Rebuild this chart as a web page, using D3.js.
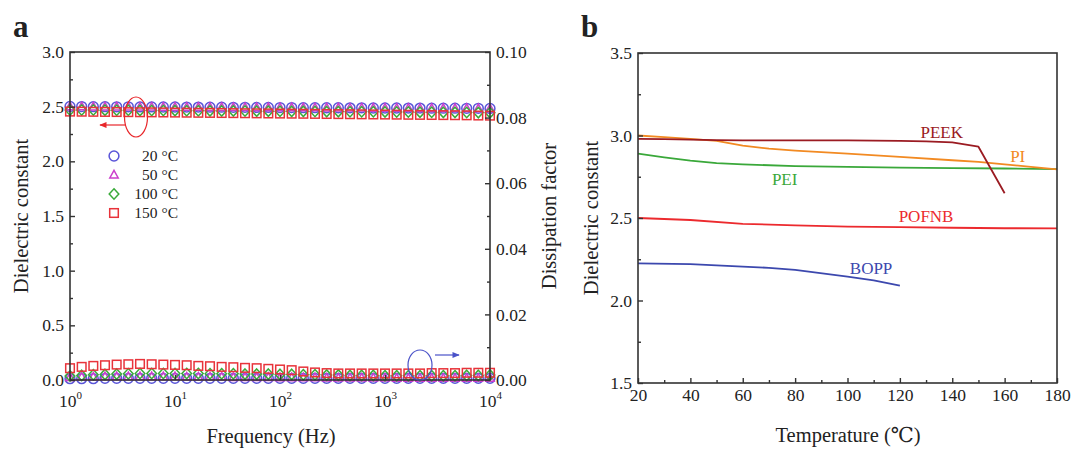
<!DOCTYPE html>
<html><head><meta charset="utf-8">
<script src="https://cdn.jsdelivr.net/npm/d3@7"></script>
<style>body{margin:0;background:#fff}svg{display:block}text{font-family:"Liberation Serif","DejaVu Serif",serif;fill:#222}</style>
</head><body><svg id="c" width="1080" height="456"></svg>
<script>
// ---------- Panel a data ----------
const freqs = [1,1.292,1.668,2.154,2.783,3.594,4.642,5.995,7.743,10,12.92,16.68,21.54,27.83,35.94,46.42,59.95,77.43,100,129.2,166.8,215.4,278.3,359.4,464.2,599.5,774.3,1000,1292,1668,2154,2783,3594,4642,5995,7743,10000];
const tempLabels = ["20 \u00B0C","50 \u00B0C","100 \u00B0C","150 \u00B0C"];
const eps20 = [2.502,2.501,2.500,2.500,2.499,2.499,2.498,2.498,2.497,2.497,2.496,2.496,2.495,2.495,2.494,2.494,2.493,2.493,2.492,2.492,2.491,2.491,2.490,2.490,2.489,2.489,2.488,2.488,2.488,2.487,2.487,2.486,2.486,2.486,2.485,2.485,2.484];
const eps50 = [2.500,2.499,2.498,2.498,2.497,2.497,2.496,2.496,2.495,2.495,2.494,2.494,2.493,2.493,2.492,2.492,2.491,2.491,2.490,2.490,2.489,2.489,2.488,2.488,2.487,2.487,2.486,2.486,2.485,2.485,2.484,2.484,2.483,2.483,2.483,2.482,2.482];
const eps100 = [2.470,2.469,2.469,2.468,2.467,2.467,2.466,2.465,2.465,2.464,2.463,2.463,2.462,2.461,2.461,2.460,2.459,2.459,2.458,2.457,2.457,2.456,2.455,2.455,2.454,2.453,2.453,2.452,2.451,2.451,2.450,2.449,2.448,2.448,2.447,2.446,2.445];
const eps150 = [2.455,2.454,2.453,2.452,2.451,2.450,2.449,2.448,2.447,2.446,2.445,2.444,2.443,2.442,2.441,2.440,2.439,2.438,2.437,2.436,2.435,2.434,2.433,2.432,2.431,2.430,2.429,2.428,2.427,2.426,2.425,2.424,2.423,2.422,2.421,2.419,2.418];
const df20 = [0.0004,0.0004,0.0004,0.0005,0.0005,0.0005,0.0005,0.0005,0.0005,0.0005,0.0005,0.0005,0.0005,0.0005,0.0005,0.0005,0.0005,0.0005,0.0005,0.0005,0.0005,0.0005,0.0005,0.0005,0.0005,0.0005,0.0005,0.0005,0.0005,0.0005,0.0005,0.0005,0.0005,0.0005,0.0005,0.0005,0.0005];
const df50 = [0.0008,0.0009,0.0009,0.0010,0.0010,0.0010,0.0010,0.0010,0.0010,0.0010,0.0009,0.0009,0.0009,0.0009,0.0008,0.0008,0.0008,0.0008,0.0007,0.0007,0.0007,0.0007,0.0006,0.0006,0.0006,0.0006,0.0006,0.0006,0.0005,0.0005,0.0005,0.0005,0.0005,0.0005,0.0005,0.0005,0.0005];
const df100 = [0.0012,0.0014,0.0016,0.0017,0.0018,0.0019,0.0020,0.0020,0.0020,0.0020,0.0020,0.0020,0.0019,0.0019,0.0019,0.0018,0.0018,0.0018,0.0017,0.0017,0.0016,0.0016,0.0015,0.0015,0.0014,0.0014,0.0014,0.0013,0.0013,0.0013,0.0013,0.0013,0.0013,0.0013,0.0014,0.0014,0.0015];
const df150 = [0.0036,0.0040,0.0043,0.0045,0.0047,0.0048,0.0049,0.0048,0.0047,0.0046,0.0045,0.0043,0.0042,0.0040,0.0039,0.0037,0.0036,0.0034,0.0032,0.0030,0.0026,0.0023,0.0021,0.0020,0.0020,0.0020,0.0020,0.0020,0.0020,0.0020,0.0020,0.0021,0.0021,0.0021,0.0022,0.0022,0.0022];
const yTicksA = [0,0.5,1,1.5,2,2.5,3];
const y2TicksA = [0,0.02,0.04,0.06,0.08,0.10];
const xTicksA = [1,10,100,1000,10000];

// ---------- Panel b data ----------
const bNames = ["PEEK","PI","PEI","POFNB","BOPP"];
const peekT = [20,30,40,50,60,80,100,120,130,140,150,160];
const peekE = [2.980,2.978,2.975,2.972,2.970,2.970,2.970,2.968,2.965,2.958,2.932,2.650];
const piT = [20,30,40,50,60,70,80,100,120,140,150,160,170,180];
const piE = [3.000,2.990,2.980,2.968,2.938,2.920,2.908,2.890,2.870,2.850,2.840,2.825,2.810,2.795];
const peiT = [20,30,40,50,60,80,100,120,140,160,180];
const peiE = [2.890,2.868,2.848,2.832,2.825,2.815,2.810,2.805,2.802,2.800,2.796];
const pofT = [20,40,60,80,100,120,140,160,180];
const pofE = [2.500,2.488,2.465,2.455,2.448,2.445,2.441,2.438,2.437];
const boppT = [20,40,60,70,80,100,110,120];
const boppE = [2.225,2.220,2.205,2.198,2.185,2.145,2.122,2.090];
const xTicksB = [20,40,60,80,100,120,140,160,180];
const yTicksB = [1.5,2.0,2.5,3.0,3.5];

const svg = d3.select("#c");
svg.append("rect").attr("width",1080).attr("height",456).attr("fill","#fff");
const defs = svg.append("defs");
[["arrRed","#e8262a"],["arrBlue","#4a52c8"]].forEach(([id,c])=>{
  defs.append("marker").attr("id",id).attr("viewBox","0 0 10 10").attr("refX",9).attr("refY",5)
    .attr("markerWidth",7).attr("markerHeight",6).attr("orient","auto-start-reverse")
    .append("path").attr("d","M0,1 L10,5 L0,9 Z").attr("fill",c);
});
const axisCol = "#333";
const TF = 17.5;

function styleAxis(g){
  g.select(".domain").remove();
  g.selectAll("line").attr("stroke",axisCol).attr("stroke-width",1.4);
  g.selectAll("text").attr("font-size",TF).attr("fill","#222").attr("font-family","Liberation Serif, serif");
}

// ================= Panel a =================
const xa = d3.scaleLog().domain([1,1e4]).range([70,490]);
const ya = d3.scaleLinear().domain([0,3]).range([380,52]);
const ya2 = d3.scaleLinear().domain([0,0.1]).range([380,52]);
const ga = svg.append("g");

const colors = ["#5a55d8","#cc3fcc","#3aaa3a","#e8333a"];
const SW = 1.5;
function circ(g,x,y,c){g.append("circle").attr("cx",x).attr("cy",y).attr("r",4.9).attr("fill","none").attr("stroke",c).attr("stroke-width",SW);}
function tri(g,x,y,c){g.append("path").attr("d",`M${x},${y-4.6}L${x+4.2},${y+3}L${x-4.2},${y+3}Z`).attr("fill","none").attr("stroke",c).attr("stroke-width",SW);}
function dia(g,x,y,c){g.append("path").attr("d",`M${x},${y-5.2}L${x+4.8},${y}L${x},${y+5.2}L${x-4.8},${y}Z`).attr("fill","none").attr("stroke",c).attr("stroke-width",SW);}
function sq(g,x,y,c){g.append("rect").attr("x",x-4.3).attr("y",y-4.3).attr("width",8.6).attr("height",8.6).attr("fill","none").attr("stroke",c).attr("stroke-width",SW);}
const shapeFns = [circ,tri,dia,sq];
const epsSets = [eps20,eps50,eps100,eps150];
const dfSets = [df20,df50,df100,df150];
const gm = ga.append("g");
[0,1,2,3].forEach(s=>{
  freqs.forEach((f,i)=>{ shapeFns[s](gm, xa(f), ya(epsSets[s][i]), colors[s]); });
});
[0,1,2,3].forEach(s=>{
  freqs.forEach((f,i)=>{ shapeFns[s](gm, xa(f), ya2(dfSets[s][i]), colors[s]); });
});

// axes a
ga.append("g").attr("transform","translate(70,0)").call(d3.axisLeft(ya).tickValues(yTicksA).tickSize(-5).tickPadding(6).tickFormat(d3.format(".1f"))).call(styleAxis);
ga.append("g").attr("transform","translate(70,0)").call(d3.axisLeft(ya).tickValues([0.25,0.75,1.25,1.75,2.25,2.75]).tickSize(-3).tickFormat("")).call(styleAxis);
ga.append("g").attr("transform","translate(490,0)").call(d3.axisRight(ya2).tickValues(y2TicksA).tickSize(-5).tickPadding(6).tickFormat(d3.format(".2f"))).call(styleAxis);
ga.append("g").attr("transform","translate(490,0)").call(d3.axisRight(ya2).tickValues([0.01,0.03,0.05,0.07,0.09]).tickSize(-3).tickFormat("")).call(styleAxis);
const gxa = ga.append("g").attr("transform","translate(0,380)").call(d3.axisBottom(xa).tickValues(xTicksA).tickSize(-5).tickPadding(12).tickFormat(()=>"")).call(styleAxis);
gxa.selectAll(".tick text").each(function(d){
  const t = d3.select(this);
  t.attr("dy","0.85em");
  t.append("tspan").text("10");
  t.append("tspan").attr("font-size",11).attr("dy","-0.7em").text(String(Math.round(Math.log10(d))));
});
ga.append("rect").attr("x",70).attr("y",52).attr("width",420).attr("height",328).attr("fill","none").attr("stroke",axisCol).attr("stroke-width",1.6);

// legend a
const legY = [156,175,194,213];
legY.forEach((y,i)=>{
  shapeFns[i](ga,114,y,colors[i]);
  ga.append("text").attr("x",178).attr("y",y+5).attr("text-anchor","end").attr("font-size",15.5).text(tempLabels[i]);
});

// annotations a
ga.append("ellipse").attr("cx",136).attr("cy",117).attr("rx",11.5).attr("ry",20).attr("fill","none").attr("stroke","#e8262a").attr("stroke-width",1.2);
ga.append("line").attr("x1",126).attr("y1",125).attr("x2",100).attr("y2",125).attr("stroke","#e8262a").attr("stroke-width",1.2).attr("marker-end","url(#arrRed)");
ga.append("ellipse").attr("cx",420).attr("cy",365).attr("rx",12).attr("ry",15).attr("fill","none").attr("stroke","#4a52c8").attr("stroke-width",1.2);
ga.append("line").attr("x1",435).attr("y1",355).attr("x2",459).attr("y2",355).attr("stroke","#4a52c8").attr("stroke-width",1.2).attr("marker-end","url(#arrBlue)");

// titles a
ga.append("text").attr("x",271).attr("y",443).attr("text-anchor","middle").attr("font-size",20.5).text("Frequency (Hz)");
ga.append("text").attr("transform","translate(28,216) rotate(-90)").attr("text-anchor","middle").attr("font-size",20.5).text("Dielectric constant");
ga.append("text").attr("transform","translate(556,216) rotate(-90)").attr("text-anchor","middle").attr("font-size",20.5).text("Dissipation factor");
svg.append("text").attr("x",13).attr("y",37).attr("font-size",31).attr("font-weight","bold").attr("fill","#111").text("a");

// ================= Panel b =================
const xb = d3.scaleLinear().domain([20,180]).range([638,1057]);
const yb = d3.scaleLinear().domain([1.5,3.5]).range([383,53]);
const gb = svg.append("g");
const bSeries = [
  {T:peekT,E:peekE,c:"#9b1b22"},
  {T:piT,E:piE,c:"#f28a22"},
  {T:peiT,E:peiE,c:"#3aa83a"},
  {T:pofT,E:pofE,c:"#ec2a2e"},
  {T:boppT,E:boppE,c:"#3c48ae"}
];
const line = d3.line().x(d=>xb(d[0])).y(d=>yb(d[1]));
[4,3,2,1,0].forEach(i=>{
  const s = bSeries[i];
  gb.append("path").datum(s.T.map((t,j)=>[t,s.E[j]])).attr("d",line).attr("fill","none").attr("stroke",s.c).attr("stroke-width",1.8).attr("stroke-linejoin","round");
});
const bLabelPos = [[136,2.985],[165,2.84],[76,2.70],[130,2.476],[109,2.16]];
bNames.forEach((n,i)=>{
  gb.append("text").attr("x",xb(bLabelPos[i][0])).attr("y",yb(bLabelPos[i][1])).attr("text-anchor","middle").attr("font-size",17).style("fill",bSeries[i].c).text(n);
});

gb.append("g").attr("transform","translate(638,0)").call(d3.axisLeft(yb).tickValues(yTicksB).tickSize(-5).tickPadding(6).tickFormat(d3.format(".1f"))).call(styleAxis);
gb.append("g").attr("transform","translate(638,0)").call(d3.axisLeft(yb).tickValues([1.75,2.25,2.75,3.25]).tickSize(-3).tickFormat("")).call(styleAxis);
gb.append("g").attr("transform","translate(0,383)").call(d3.axisBottom(xb).tickValues(xTicksB).tickSize(-5).tickPadding(6).tickFormat(d3.format("d"))).call(styleAxis);
gb.append("g").attr("transform","translate(0,383)").call(d3.axisBottom(xb).tickValues([30,50,70,90,110,130,150,170]).tickSize(-3).tickFormat("")).call(styleAxis);
gb.append("rect").attr("x",638).attr("y",53).attr("width",419).attr("height",330).attr("fill","none").attr("stroke",axisCol).attr("stroke-width",1.6);

gb.append("text").attr("x",848).attr("y",442).attr("text-anchor","middle").attr("font-size",20.5).text("Temperature (\u2103)");
gb.append("text").attr("transform","translate(598,218) rotate(-90)").attr("text-anchor","middle").attr("font-size",20.5).text("Dielectric constant");
svg.append("text").attr("x",581).attr("y",37).attr("font-size",31).attr("font-weight","bold").attr("fill","#111").text("b");
</script></body></html>
